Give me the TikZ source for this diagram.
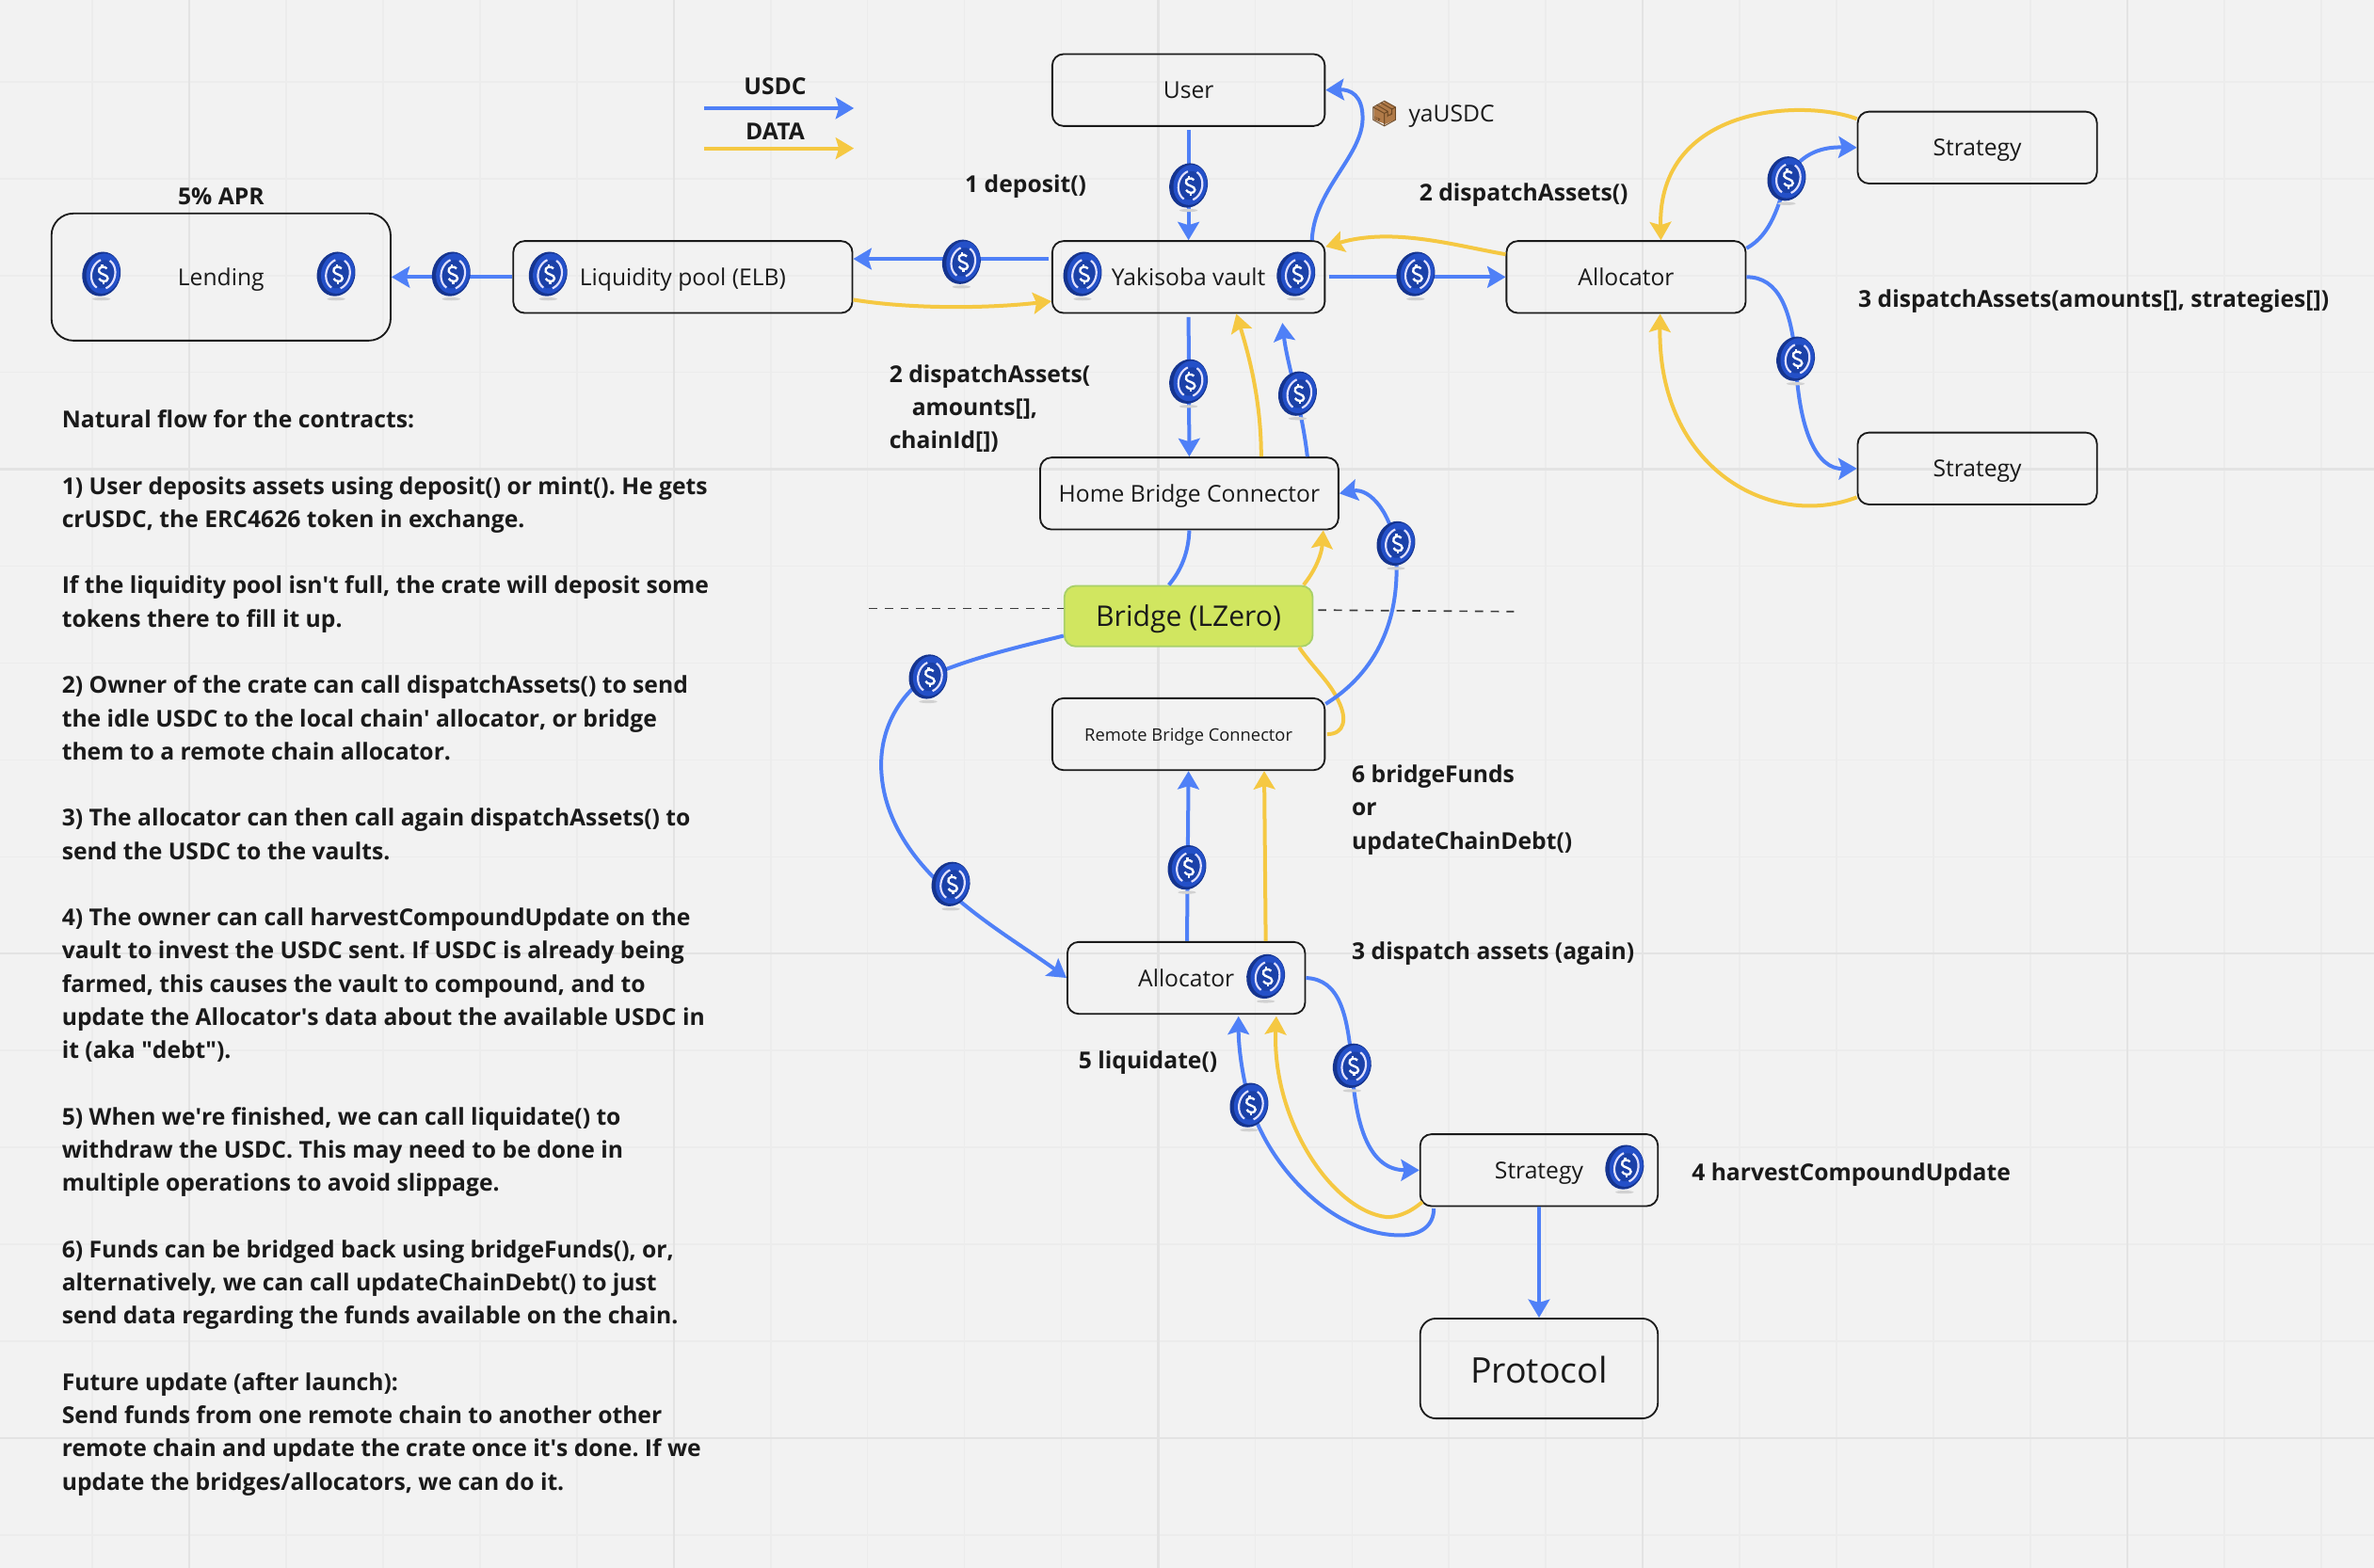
\documentclass[tikz,border=0pt]{standalone}
\usepackage{fontspec}
\setmainfont{Open Sans}
\newfontfamily\emojifont{Noto Emoji}
\usepackage{xcolor}
\usetikzlibrary{arrows.meta,calc}

\definecolor{board}{HTML}{F2F2F2}
\definecolor{gridminor}{HTML}{ECECEC}
\definecolor{gridmajor}{HTML}{E3E3E3}
\definecolor{ink}{HTML}{1A1A1A}
\definecolor{usdcblue}{HTML}{4F80F7}
\definecolor{datayellow}{HTML}{F5C842}
\definecolor{lzero}{HTML}{D1E660}
\definecolor{lzeroedge}{HTML}{A8D068}
\definecolor{coindark}{HTML}{15348F}
\definecolor{coinface}{HTML}{2450C8}
\definecolor{coininner}{HTML}{1B41A8}
\definecolor{parcel}{HTML}{B07A48}

\def\unit{0.4825pt}

\tikzset{
  box/.style={draw=ink, line width=0.55pt, rounded corners=3.6pt, inner sep=0pt,
    minimum width=#1*\unit, minimum height=47.5*\unit, text=ink,
    text height=8pt, text depth=2.5pt,
    font=\fontsize{7.4}{9}\selectfont},
  box/.default=180,
  usdc/.style={draw=usdcblue, line width=1.2pt, -{Stealth[length=5.8pt,width=6.8pt,inset=1pt]}},
  usdcline/.style={draw=usdcblue, line width=1.2pt},
  data/.style={draw=datayellow, line width=1.2pt, -{Stealth[length=5.8pt,width=6.8pt,inset=1pt]}},
  dataline/.style={draw=datayellow, line width=1.2pt},
  lbl/.style={anchor=west, inner sep=0pt, align=left, text=ink,
    font=\bfseries\fontsize{7.4}{10.58}\selectfont},
  coin/.pic={
    \fill[black!18] (0,16.5) ellipse [x radius=6, y radius=1];
    \begin{scope}[rotate=-14]
      \fill[coindark] (0,0) ellipse [x radius=12.6, y radius=14.8];
      \fill[coinface] (1,-0.6) ellipse [x radius=11, y radius=13.4];
      \fill[coininner] (1.2,-0.2) ellipse [x radius=7.6, y radius=9.6];
      \draw[white!88!blue, line width=0.65pt] (1.2,-0.2) ++(105:7.8 and 10) arc [start angle=105, end angle=240, x radius=7.8, y radius=10];
      \draw[white!88!blue, line width=0.65pt] (1.2,-0.2) ++(-75:7.8 and 10) arc [start angle=-75, end angle=60, x radius=7.8, y radius=10];
    \end{scope}
    \draw[white, line width=0.7pt] (3.6,-3.6) .. controls (2,-5.6) and (-2.6,-4.8) .. (-1.6,-1.6)
      .. controls (-1,0.4) and (4.4,0.2) .. (4.2,3) .. controls (4,5.8) and (-0.6,5.2) .. (-1.6,3);
    \draw[white, line width=0.7pt] (0.4,-6.4) -- (0.4,-4.6) (1.4,5) -- (1.4,6.8);
  }
}

\begin{document}
\frenchspacing
\begin{tikzpicture}[x=0.4825pt, y=-0.4825pt]

\useasboundingbox (0,0) rectangle (1568,1035.8);
\fill[board] (0,0) rectangle (1568,1035.8);

% Board grid
\foreach \gx in {-3,61,...,1568}
  \draw[gridminor, line width=0.5pt] (\gx,0) -- (\gx,1035.8);
\foreach \gy in {54,118,...,1035}
  \draw[gridminor, line width=0.5pt] (0,\gy) -- (1568,\gy);
\foreach \gx in {125,445,765,1085,1405}
  \draw[gridmajor, line width=0.7pt] (\gx,0) -- (\gx,1035.8);
\foreach \gy in {310,630,950}
  \draw[gridmajor, line width=0.7pt] (0,\gy) -- (1568,\gy);

% Home chain boxes
\node[box] (user) at (785,59.5) {User};
\node[box] (vault) at (785,183) {Yakisoba vault};
\node[box=224] (pool) at (451,183) {Liquidity pool (ELB)};
\node[box=224, minimum height=84*\unit, rounded corners=7pt] (lending) at (146,183) {Lending};
\node[box=158] (allochome) at (1074,183) {Allocator};
\node[box=158] (stratup) at (1306,97.5) {Strategy};
\node[box=158] (stratdown) at (1306,309.5) {Strategy};
\node[box=197] (homebridge) at (785.5,326) {Home Bridge Connector};

% Bridge and the dashed chain limit
\node[box=164, minimum height=40*\unit, draw=lzeroedge, fill=lzero, text height=9.1pt, text depth=2.6pt, font=\fontsize{9.05}{11}\selectfont] (bridge) at (785,407) {Bridge (LZero)};
\coordinate (limitleft) at (574,402);
\coordinate (limitright) at (1000,404);
\draw[ink!85, line width=0.5pt, dash pattern=on 2.6pt off 2.4pt] (limitleft) -- ($(bridge.west)+(0,-5)$);
\draw[ink!85, line width=0.5pt, dash pattern=on 2.6pt off 2.4pt] ($(bridge.east)+(3,-4)$) -- (limitright);

% Remote chain boxes
\node[box, text height=7pt, text depth=2.4pt, font=\fontsize{5.5}{7}\selectfont] (remotebridge) at (785,485) {Remote Bridge Connector};
\node[box=157] (allocremote) at (783.5,646) {Allocator};
\node[box=157] (stratremote) at (1016.5,773) {Strategy};
\node[box=157, minimum height=66*\unit, rounded corners=5pt, text height=12pt, text depth=2.6pt, font=\fontsize{11.25}{14}\selectfont] (protocol) at (1016.5,904) {Protocol};

% Legend
\coordinate (usdcstart) at (465,71.5);
\coordinate (usdcend) at (564,71.5);
\coordinate (datastart) at (465,98);
\coordinate (dataend) at (564,98);
\draw[usdc] (usdcstart) -- (usdcend);
\draw[data] (datastart) -- (dataend);
\node[lbl, anchor=center] (usdclabel) at (512,57) {USDC};
\node[lbl, anchor=center] (datalabel) at (512,87) {DATA};

% USDC flow on the home chain
\draw[usdc, shorten <=1pt] (user.south) -- (vault.north);
\draw[usdc] ($(vault.north)+(81.5,0)$) .. controls (868,125) and (900,103) .. (900,78) .. controls (900,63) and (892,59) .. (user.east);
\draw[usdc, shorten <=1pt] (vault.west |- 785,171) -- (pool.east |- 785,171);
\draw[usdc] (pool.west) -- (lending.east);
\draw[usdc, shorten <=1pt] (vault.east) -- (allochome.west);
\draw[usdc, shorten <=1pt] (vault.south) -- (homebridge.north);
\draw[usdc] ($(homebridge.north)+(78,0)$) .. controls (860,270) and (850,240) .. ($(vault.south)+(62,6)$);
\draw[usdc] ($(allochome.east)+(0,-19)$) .. controls (1170,155) and (1175,135) .. (1180,118) .. controls (1190,100) and (1205,97) .. (stratup.west);
\draw[usdc] (allochome.east) .. controls (1175,183) and (1183,205) .. (1186,237) .. controls (1188,285) and (1200,310) .. (stratdown.west);

% Data flow on the home chain
\draw[data] (pool.south east |- 563,198) .. controls (600,204) and (650,204) .. ($(vault.west)+(0,16)$);
\draw[data] ($(allochome.west)+(0,-15)$) .. controls (960,162) and (920,150) .. ($(vault.east)+(0,-20)$);
\draw[data] ($(homebridge.north)+(47.5,0)$) .. controls (833,265) and (825,235) .. ($(vault.south)+(31.5,0)$);
\draw[data] ($(stratup.west)+(0,-19)$) .. controls (1190,65) and (1095,70) .. ($(allochome.north)+(23,0)$);
\draw[data] ($(stratdown.west)+(0,19)$) .. controls (1170,350) and (1095,310) .. ($(allochome.south)+(22.5,0)$);

% Crossing the bridge
\draw[usdcline] ($(homebridge.south)$) .. controls (785,365) and (780,377) .. ($(bridge.north)+(-13,0)$);
\draw[usdc] ($(bridge.west)+(0,13)$) .. controls (670,428) and (640,435) .. (613,447) .. controls (595,458) and (582,480) .. (582,505)
  .. controls (582,545) and (610,575) .. (628,590) .. controls (650,610) and (680,628) .. (allocremote.west);
\draw[data] ($(bridge.north)+(76,0)$) .. controls (870,375) and (873,365) .. ($(homebridge.south)+(88.5,0)$);
\draw[dataline] ($(remotebridge.east)+(1,0)$) .. controls (888,485) and (890,475) .. (884,463) .. controls (878,450) and (868,442) .. ($(bridge.south)+(73,0)$);
\draw[usdc] ($(remotebridge.east)+(0,-20)$) .. controls (900,450) and (926,420) .. (922,365) .. controls (920,340) and (905,322) .. (homebridge.east);

% Remote chain flows
\draw[usdc] ($(allocremote.north)+(0.5,0)$) -- (remotebridge.south);
\draw[data] ($(allocremote.north)+(52.5,0)$) -- ($(remotebridge.south)+(50,0)$);
\draw[usdc] (allocremote.east) .. controls (885,647) and (890,670) .. (893,704) .. controls (895,745) and (905,773) .. (stratremote.west);
\draw[data] ($(stratremote.west)+(2,21)$) .. controls (930,802) and (922,804) .. (916,804) .. controls (880,800) and (840,740) .. ($(allocremote.south)+(59.5,1)$);
\draw[usdc] ($(stratremote.south)+(-69.5,1)$) .. controls (947,810) and (938,816) .. (925,816) .. controls (880,816) and (838,770) .. (826,730) .. controls (820,710) and (818,690) .. ($(allocremote.south)+(34.5,1)$);
\draw[usdc] (stratremote.south) -- (protocol.north);

% Coins on the connectors
\foreach \cx/\cy in {785/122.5,635/173,298/181,935/181,1180/118,1186/237,785/252,857/260,922/359,613/447,628/584,784/573,893/704,825/730}
  \pic at (\cx,\cy) {coin};

% Coins in the boxes
\foreach \cx/\cy in {715/181,856/181,362/181,67/181,222/181,836/645,1073/771}
  \pic at (\cx,\cy) {coin};

% Labels
\node[lbl, anchor=center] (aprlabel) at (146,130) {5\% APR};
\node[lbl] (depositlabel) at (637,123) {1 deposit()};
\node[lbl] (dispatchlabel) at (937,129) {2 dispatchAssets()};
\node[lbl] (strategieslabel) at (1227,199) {3 dispatchAssets(amounts[], strategies[])};
\node[lbl] (chainlabel) at (587,270) {2 dispatchAssets(\\\hspace*{7.2pt}amounts[],\\chainId[])};
\node[lbl] (bridgelabel) at (892.5,535) {6 bridgeFunds\\or\\updateChainDebt()};
\node[lbl] (againlabel) at (892.5,630) {3 dispatch assets (again)};
\node[lbl] (liquidatelabel) at (712,702) {5 liquidate()};
\node[lbl] (harvestlabel) at (1117,776) {4 harvestCompoundUpdate};
\fill[parcel] (907.5,71) -- (915,67) -- (922,71) -- (922,79) -- (915,82) -- (907.5,79) -- cycle;
\node[text=brown!55!black, inner sep=0pt, font=\emojifont\fontsize{8}{9}\selectfont] (package) at (914.5,75) {📦};
\node[lbl, font=\fontsize{7.4}{9}\selectfont] (yalabel) at (930,77) {yaUSDC};

% Notes
\node[lbl, anchor=north west] (notes) at (40.5,270.5) {Natural flow for the contracts:\\[10.58pt]
1) User deposits assets using deposit() or mint(). He gets\\
crUSDC, the ERC4626 token in exchange.\\[10.58pt]
If the liquidity pool isn\textquotesingle t full, the crate will deposit some\\
tokens there to fill it up.\\[10.58pt]
2) Owner of the crate can call dispatchAssets() to send\\
the idle USDC to the local chain\textquotesingle{} allocator, or bridge\\
them to a remote chain allocator.\\[10.58pt]
3) The allocator can then call again dispatchAssets() to\\
send the USDC to the vaults.\\[10.58pt]
4) The owner can call harvestCompoundUpdate on the\\
vault to invest the USDC sent. If USDC is already being\\
farmed, this causes the vault to compound, and to\\
update the Allocator\textquotesingle s data about the available USDC in\\
it (aka \textquotedbl debt\textquotedbl).\\[10.58pt]
5) When we\textquotesingle re finished, we can call liquidate() to\\
withdraw the USDC. This may need to be done in\\
multiple operations to avoid slippage.\\[10.58pt]
6) Funds can be bridged back using bridgeFunds(), or,\\
alternatively, we can call updateChainDebt() to just\\
send data regarding the funds available on the chain.\\[10.58pt]
Future update (after launch):\\
Send funds from one remote chain to another other\\
remote chain and update the crate once it\textquotesingle s done. If we\\
update the bridges/allocators, we can do it.};

\end{tikzpicture}
\end{document}
